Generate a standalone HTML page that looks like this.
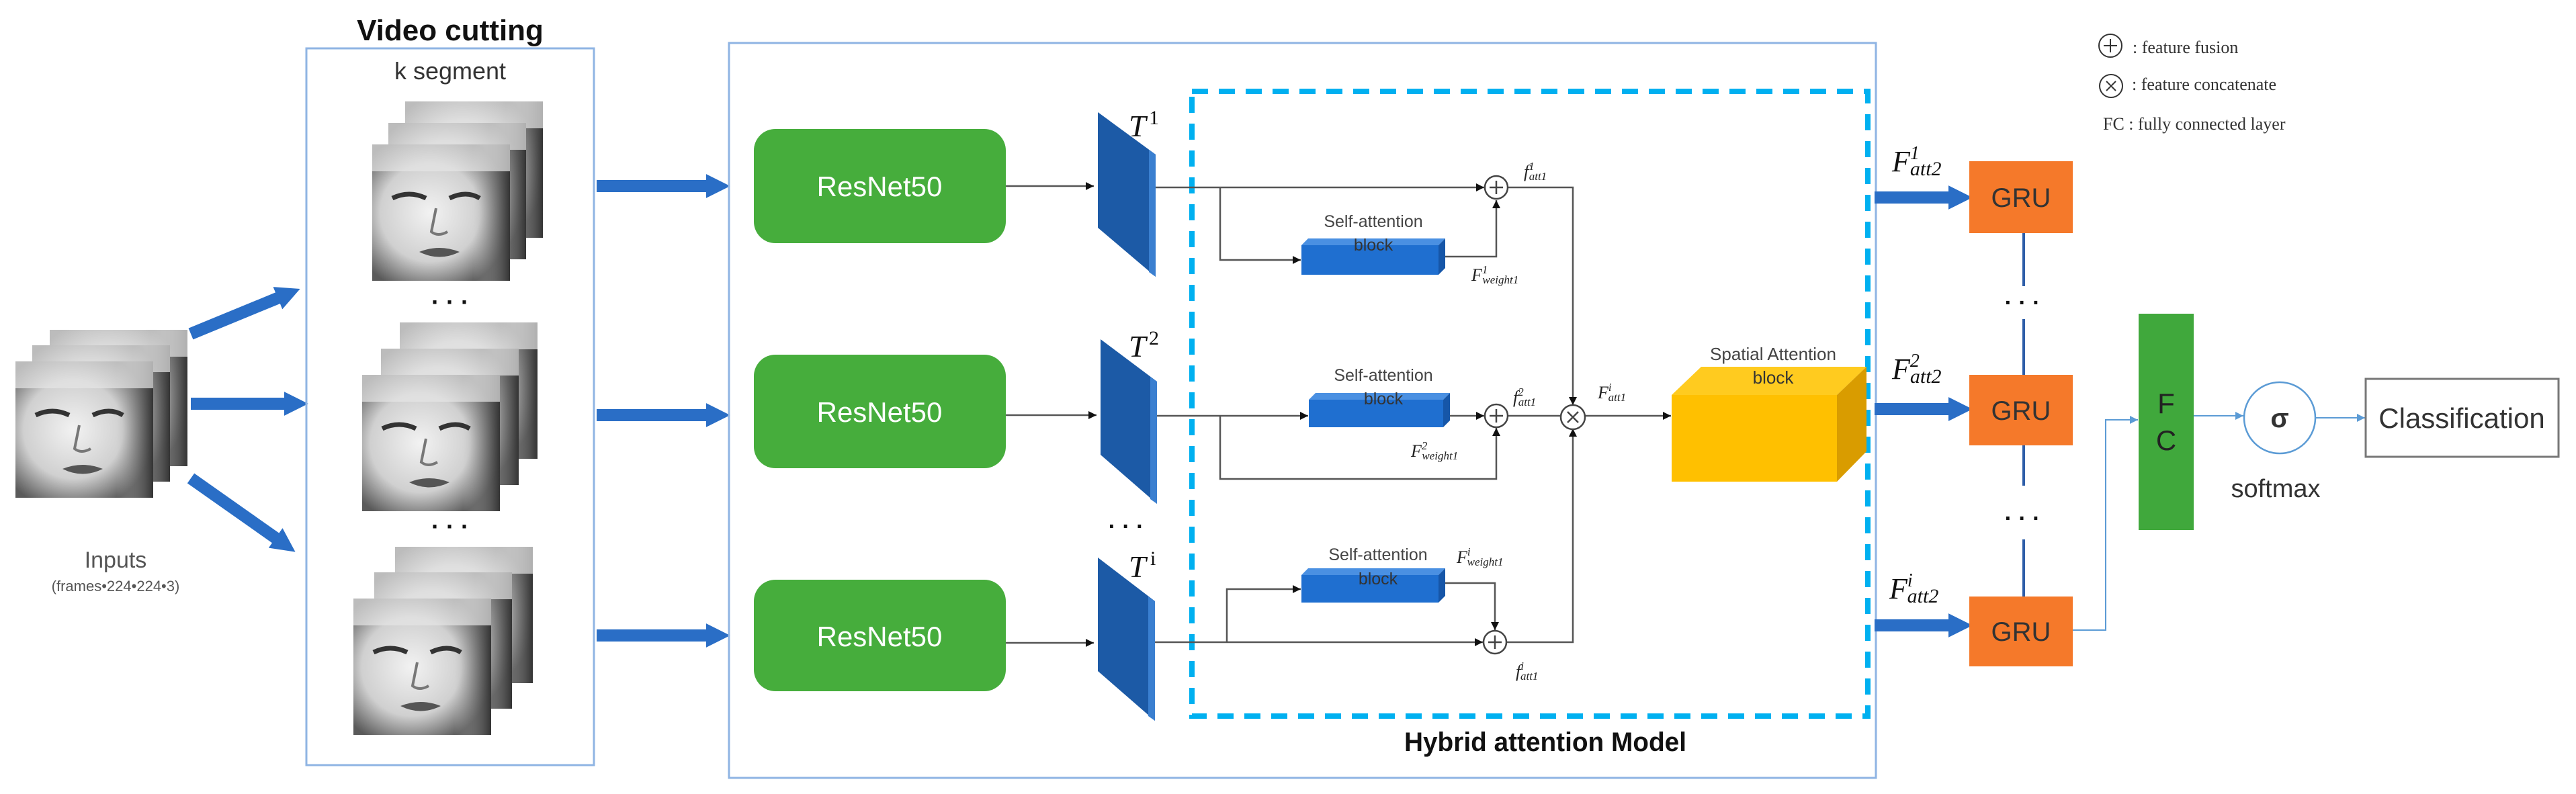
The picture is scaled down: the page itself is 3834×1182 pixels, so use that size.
<!DOCTYPE html>
<html><head><meta charset="utf-8"><style>
html,body{margin:0;padding:0;background:#fff;}
svg{display:block;}
</style></head><body>
<svg width="3834" height="1182" viewBox="0 0 3834 1182" xmlns="http://www.w3.org/2000/svg">
<defs>
<radialGradient id="fg" cx="0.42" cy="0.5" r="0.6">
<stop offset="0" stop-color="#f2f2f2"/><stop offset="0.6" stop-color="#d0d0d0"/><stop offset="1" stop-color="#5a5a5a"/>
</radialGradient>
<linearGradient id="hair" x1="0" y1="0" x2="1" y2="0">
<stop offset="0" stop-color="#bbb" stop-opacity="0"/><stop offset="1" stop-color="#333"/>
</linearGradient>
<symbol id="face" viewBox="0 0 205 203" width="205" height="203">
<rect x="0" y="0" width="205" height="203" fill="url(#fg)"/>
<rect x="150" y="0" width="55" height="203" fill="url(#hair)"/>
<rect x="0" y="0" width="205" height="40" fill="#e6e6e6" opacity="0.7"/>
<path d="M30 80 Q55 68 80 80" stroke="#333" stroke-width="7" fill="none"/>
<path d="M115 80 Q140 68 160 80" stroke="#333" stroke-width="7" fill="none"/>
<path d="M95 95 L88 130 Q98 138 112 130" stroke="#777" stroke-width="4" fill="none"/>
<path d="M70 160 Q100 148 130 160 Q100 175 70 160" fill="#555"/>
</symbol>
<marker id="ah" viewBox="0 0 10 10" refX="10" refY="5" markerWidth="12" markerHeight="12" markerUnits="userSpaceOnUse" orient="auto"><path d="M0 0 L10 5 L0 10 z" fill="#111"/></marker>
<marker id="ahb" viewBox="0 0 10 10" refX="10" refY="5" markerWidth="12" markerHeight="12" markerUnits="userSpaceOnUse" orient="auto"><path d="M0 0 L10 5 L0 10 z" fill="#5b9bd5"/></marker>
<marker id="big" viewBox="0 0 10 10" refX="2" refY="5" markerWidth="2" markerHeight="2" orient="auto"><path d="M0 0 L10 5 L0 10 z" fill="#2a6ec6"/></marker>
</defs>

<!-- Inputs stack -->
<use href="#face" x="74" y="491" width="205" height="203"/>
<use href="#face" x="48" y="514" width="205" height="203"/>
<use href="#face" x="23" y="537" width="205" height="205"/>
<text x="172" y="845" font-family="Liberation Sans, sans-serif" font-size="34" fill="#555" text-anchor="middle">Inputs</text>
<text x="172" y="880" font-family="Liberation Sans, sans-serif" font-size="22" fill="#555" text-anchor="middle">(frames•224•224•3)</text>

<!-- input arrows -->
<g stroke="#2a6ec6" stroke-width="18" marker-end="url(#big)">
<line x1="284" y1="497" x2="420" y2="441"/>
<line x1="284" y1="601" x2="430" y2="601"/>
<line x1="284" y1="712" x2="416" y2="805"/>
</g>

<!-- Video cutting -->
<rect x="456" y="72" width="428" height="1067" fill="none" stroke="#8fb4e3" stroke-width="3"/>
<text x="670" y="60" font-family="Liberation Sans, sans-serif" font-size="44" font-weight="bold" fill="#111" text-anchor="middle">Video cutting</text>
<text x="670" y="118" font-family="Liberation Sans, sans-serif" font-size="36" fill="#333" text-anchor="middle">k  segment</text>
<use href="#face" x="603" y="151"/><use href="#face" x="578" y="183"/><use href="#face" x="554" y="215"/>
<use href="#face" x="595" y="480"/><use href="#face" x="567" y="519"/><use href="#face" x="539" y="558"/>
<use href="#face" x="588" y="814"/><use href="#face" x="557" y="852"/><use href="#face" x="526" y="891"/>
<text x="670" y="462" font-family="Liberation Sans, sans-serif" font-size="36" font-weight="bold" fill="#111" text-anchor="middle">· · ·</text>
<text x="670" y="796" font-family="Liberation Sans, sans-serif" font-size="36" font-weight="bold" fill="#111" text-anchor="middle">· · ·</text>

<g stroke="#2a6ec6" stroke-width="18" marker-end="url(#big)">
<line x1="888" y1="277" x2="1058" y2="277"/>
<line x1="888" y1="618" x2="1058" y2="618"/>
<line x1="888" y1="946" x2="1058" y2="946"/>
</g>

<!-- Hybrid outer box -->
<rect x="1085" y="64" width="1707" height="1094" fill="none" stroke="#8fb4e3" stroke-width="3"/>
<rect x="1774" y="136" width="1006" height="930" fill="none" stroke="#00b0f0" stroke-width="8" stroke-dasharray="24,16"/>
<text x="2300" y="1118" font-family="Liberation Sans, sans-serif" font-size="40" font-weight="600" fill="#111" text-anchor="middle" textLength="420" lengthAdjust="spacingAndGlyphs">Hybrid attention Model</text>

<!-- ResNet -->
<g font-family="Liberation Sans, sans-serif" font-size="42" fill="#fff" text-anchor="middle">
<rect x="1122" y="192" width="375" height="170" rx="32" fill="#46ad3c"/>
<text x="1309" y="292">ResNet50</text>
<rect x="1122" y="528" width="375" height="169" rx="32" fill="#46ad3c"/>
<text x="1309" y="628">ResNet50</text>
<rect x="1122" y="863" width="375" height="166" rx="32" fill="#46ad3c"/>
<text x="1309" y="962">ResNet50</text>
</g>
<g stroke="#555" stroke-width="2.5" fill="none" marker-end="url(#ah)">
<line x1="1497" y1="277" x2="1628" y2="277"/>
<line x1="1497" y1="618" x2="1632" y2="618"/>
<line x1="1497" y1="957" x2="1628" y2="957"/>
</g>

<!-- T panels -->
<g fill="#1c5aa6">
<polygon points="1634,167 1720,230 1720,412 1634,339"/>
<polygon points="1638,505 1722,568 1722,750 1638,677"/>
<polygon points="1634,830 1719,895 1719,1073 1634,999"/>
</g>
<g fill="#3a7fd0">
<polygon points="1710,223 1720,230 1720,412 1710,405"/>
<polygon points="1712,561 1722,568 1722,750 1712,743"/>
<polygon points="1709,888 1719,895 1719,1073 1709,1066"/>
</g>
<g font-family="Liberation Serif, serif" fill="#111">
<text x="1680" y="203" font-size="46" font-style="italic">T</text><text x="1710" y="185" font-size="30">1</text>
<text x="1680" y="531" font-size="46" font-style="italic">T</text><text x="1710" y="513" font-size="30">2</text>
<text x="1680" y="859" font-size="46" font-style="italic">T</text><text x="1712" y="841" font-size="30">i</text>
</g>
<text x="1676" y="795" font-family="Liberation Sans, sans-serif" font-size="34" font-weight="bold" fill="#111" text-anchor="middle">· · ·</text>

<!-- connectors inside -->
<g stroke="#555" stroke-width="2.5" fill="none">
<line x1="1720" y1="279" x2="2209" y2="279" marker-end="url(#ah)"/>
<polyline points="1816,279 1816,387 1936,387" marker-end="url(#ah)"/>
<polyline points="2151,382 2227,382 2227,298" marker-end="url(#ah)"/>
<polyline points="2244,279 2341,279 2341,603" marker-end="url(#ah)"/>

<line x1="1722" y1="619" x2="1947" y2="619" marker-end="url(#ah)"/>
<line x1="2158" y1="619" x2="2209" y2="619" marker-end="url(#ah)"/>
<polyline points="1816,619 1816,713 2227,713 2227,637" marker-end="url(#ah)"/>
<line x1="2244" y1="619" x2="2323" y2="619"/>
<line x1="2359" y1="619" x2="2487" y2="619" marker-end="url(#ah)"/>

<line x1="1719" y1="956" x2="2207" y2="956" marker-end="url(#ah)"/>
<polyline points="1826,956 1826,877 1936,877" marker-end="url(#ah)"/>
<polyline points="2151,868 2225,868 2225,938" marker-end="url(#ah)"/>
<polyline points="2242,956 2341,956 2341,638" marker-end="url(#ah)"/>
</g>
<!-- plus/cross circles -->
<g stroke="#444" stroke-width="2.5" fill="#fff">
<circle cx="2227" cy="279" r="17"/><circle cx="2227" cy="619" r="17"/><circle cx="2225" cy="956" r="17"/>
<circle cx="2341" cy="621" r="18"/>
</g>
<g stroke="#444" stroke-width="2.5">
<path d="M2217 279 H2237 M2227 269 V289"/>
<path d="M2217 619 H2237 M2227 609 V629"/>
<path d="M2215 956 H2235 M2225 946 V966"/>
<path d="M2333 613 L2349 629 M2349 613 L2333 629"/>
</g>

<!-- self-attention blocks -->
<g>
<polygon points="1937,365 1947,355 2151,355 2141,365" fill="#4a90e2"/>
<rect x="1937" y="365" width="204" height="44" fill="#1f6fd0"/>
<polygon points="2141,365 2151,355 2151,399 2141,409" fill="#1656a8"/>
<polygon points="1948,595 1958,585 2158,585 2148,595" fill="#4a90e2"/>
<rect x="1948" y="595" width="200" height="41" fill="#1f6fd0"/>
<polygon points="2148,595 2158,585 2158,626 2148,636" fill="#1656a8"/>
<polygon points="1937,856 1947,846 2151,846 2141,856" fill="#4a90e2"/>
<rect x="1937" y="856" width="204" height="41" fill="#1f6fd0"/>
<polygon points="2141,856 2151,846 2151,887 2141,897" fill="#1656a8"/>
</g>
<g font-family="Liberation Sans, sans-serif" font-size="25" fill="#444" text-anchor="middle">
<text x="2044" y="338">Self-attention</text><text x="2044" y="373" fill="#333">block</text>
<text x="2059" y="567">Self-attention</text><text x="2059" y="602" fill="#333">block</text>
<text x="2051" y="834">Self-attention</text><text x="2051" y="870" fill="#333">block</text>
</g>

<!-- Spatial attention -->
<polygon points="2488,588 2532,546 2778,546 2734,588" fill="#ffcb1f"/>
<rect x="2488" y="588" width="246" height="129" fill="#ffc000"/>
<polygon points="2734,588 2778,546 2778,672 2734,717" fill="#d99c00"/>
<g font-family="Liberation Sans, sans-serif" font-size="26" fill="#444" text-anchor="middle">
<text x="2639" y="536">Spatial Attention</text><text x="2639" y="571" fill="#333">block</text>
</g>

<!-- math labels small -->
<g font-family="Liberation Serif, serif" font-style="italic" fill="#222">
<text x="2268" y="264" font-size="26">f<tspan font-size="17" dy="-11">1</tspan><tspan font-size="17" dx="-8" dy="15">att1</tspan></text>
<text x="2190" y="418" font-size="26">F<tspan font-size="17" dy="-11">1</tspan><tspan font-size="17" dx="-8" dy="15">weight1</tspan></text>
<text x="2252" y="600" font-size="26">f<tspan font-size="17" dy="-11">2</tspan><tspan font-size="17" dx="-8" dy="15">att1</tspan></text>
<text x="2100" y="680" font-size="26">F<tspan font-size="17" dy="-11">2</tspan><tspan font-size="17" dx="-8" dy="15">weight1</tspan></text>
<text x="2378" y="593" font-size="26">F<tspan font-size="17" dy="-11">i</tspan><tspan font-size="17" dx="-5" dy="15">att1</tspan></text>
<text x="2168" y="838" font-size="26">F<tspan font-size="17" dy="-11">i</tspan><tspan font-size="17" dx="-5" dy="15">weight1</tspan></text>
<text x="2256" y="1008" font-size="26">f<tspan font-size="17" dy="-11">i</tspan><tspan font-size="17" dx="-5" dy="15">att1</tspan></text>
</g>

<!-- GRU section -->
<g stroke="#2a6ec6" stroke-width="18" marker-end="url(#big)">
<line x1="2790" y1="294" x2="2907" y2="294"/>
<line x1="2790" y1="609" x2="2907" y2="609"/>
<line x1="2790" y1="931" x2="2907" y2="931"/>
</g>
<g font-family="Liberation Serif, serif" font-style="italic" fill="#111">
<text x="2816" y="255" font-size="44">F<tspan font-size="28" dy="-18">1</tspan><tspan font-size="30" dx="-14" dy="24">att2</tspan></text>
<text x="2816" y="564" font-size="44">F<tspan font-size="28" dy="-18">2</tspan><tspan font-size="30" dx="-14" dy="24">att2</tspan></text>
<text x="2812" y="891" font-size="44">F<tspan font-size="28" dy="-18">i</tspan><tspan font-size="30" dx="-8" dy="24">att2</tspan></text>
</g>
<g fill="#f5792a">
<rect x="2931" y="240" width="154" height="107"/>
<rect x="2931" y="558" width="154" height="105"/>
<rect x="2931" y="888" width="154" height="104"/>
</g>
<g font-family="Liberation Sans, sans-serif" font-size="40" fill="#333" text-anchor="middle">
<text x="3008" y="308">GRU</text><text x="3008" y="625">GRU</text><text x="3008" y="954">GRU</text>
</g>
<g stroke="#2e5ea8" stroke-width="4">
<line x1="3012" y1="347" x2="3012" y2="426"/>
<line x1="3012" y1="475" x2="3012" y2="558"/>
<line x1="3012" y1="663" x2="3012" y2="723"/>
<line x1="3012" y1="803" x2="3012" y2="888"/>
</g>
<text x="3010" y="462" font-family="Liberation Sans, sans-serif" font-size="34" font-weight="bold" fill="#111" text-anchor="middle">· · ·</text>
<text x="3010" y="783" font-family="Liberation Sans, sans-serif" font-size="34" font-weight="bold" fill="#111" text-anchor="middle">· · ·</text>

<rect x="3183" y="467" width="82" height="322" fill="#40a83c"/>
<text x="3224" y="615" font-family="Liberation Sans, sans-serif" font-size="42" fill="#222" text-anchor="middle">F</text>
<text x="3224" y="670" font-family="Liberation Sans, sans-serif" font-size="42" fill="#222" text-anchor="middle">C</text>

<g stroke="#5b9bd5" stroke-width="2" fill="none">
<polyline points="3085,938 3134,938 3134,625 3182,625" marker-end="url(#ahb)"/>
<line x1="3265" y1="619" x2="3339" y2="619" marker-end="url(#ahb)"/>
<line x1="3446" y1="622" x2="3520" y2="622" marker-end="url(#ahb)"/>
</g>
<circle cx="3393" cy="622" r="53" fill="#fff" stroke="#5b9bd5" stroke-width="2.5"/>
<text x="3393" y="636" font-family="Liberation Sans, sans-serif" font-size="40" font-weight="bold" fill="#333" text-anchor="middle">σ</text>
<text x="3387" y="740" font-family="Liberation Sans, sans-serif" font-size="38" fill="#333" text-anchor="middle">softmax</text>
<rect x="3521" y="564" width="287" height="116" fill="#fff" stroke="#777" stroke-width="3"/>
<text x="3664" y="637" font-family="Liberation Sans, sans-serif" font-size="42" fill="#333" text-anchor="middle">Classification</text>

<!-- Legend -->
<g stroke="#333" stroke-width="2" fill="none">
<circle cx="3141" cy="68" r="17"/><path d="M3131 68 H3151 M3141 58 V78"/>
<circle cx="3142" cy="128" r="17"/><path d="M3135 121 L3149 135 M3149 121 L3135 135"/>
</g>
<g font-family="Liberation Serif, serif" font-size="26" fill="#333">
<text x="3174" y="79">: feature  fusion</text>
<text x="3173" y="134">: feature  concatenate</text>
<text x="3130" y="193">FC : fully  connected  layer</text>
</g>
</svg>
</body></html>
